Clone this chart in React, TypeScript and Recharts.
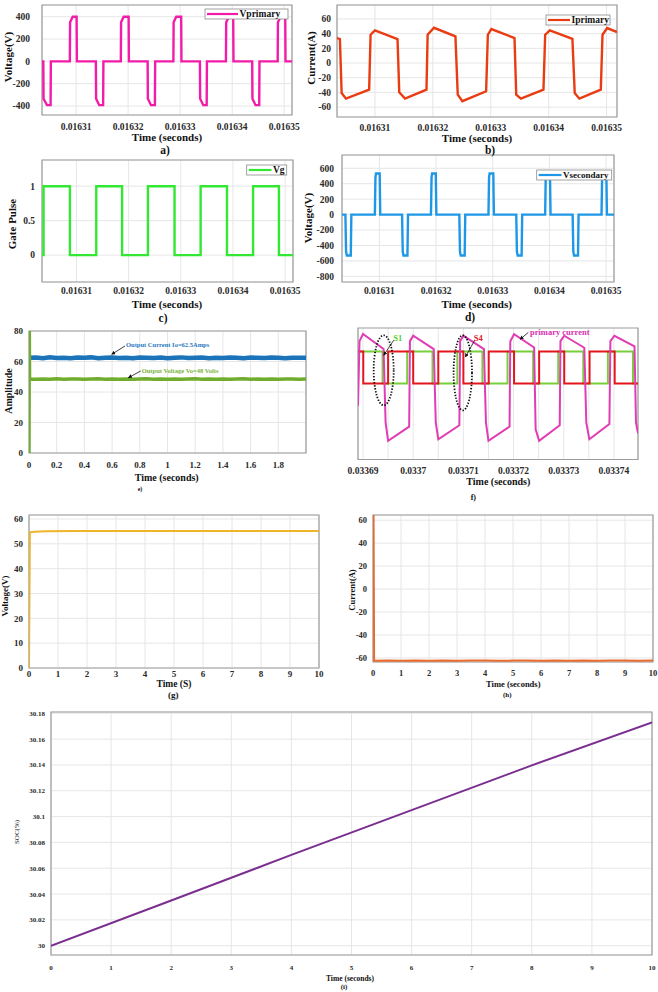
import React from "react";
import { CartesianGrid, Line, LineChart, ReferenceArea, XAxis, YAxis } from "recharts";

type Pt = [number, number];

// time for a-d and f is in microseconds, printed as seconds on the axis
const vPrimary: Pt[] = [
  [16303.4, 0], [16303.7, 0], [16303.75, -335], [16304.4, -392], [16305.1, -392], [16305.15, 0],
  [16308.8, 0], [16308.85, 350], [16309.35, 400], [16310.1, 400], [16310.15, 0],
  [16313.8, 0], [16313.85, -335], [16314.45, -392], [16315.2, -392], [16315.25, 0],
  [16318.6, 0], [16318.65, 350], [16319.15, 400], [16320.1, 400], [16320.15, 0],
  [16323.75, 0], [16323.8, -335], [16324.4, -392], [16325.15, -392], [16325.2, 0],
  [16328.7, 0], [16328.75, 350], [16329.25, 400], [16330.2, 400], [16330.25, 0],
  [16333.8, 0], [16333.85, -335], [16334.45, -392], [16335.1, -392], [16335.15, 0],
  [16338.8, 0], [16338.85, 350], [16339.35, 400], [16340.2, 400], [16340.25, 0],
  [16343.85, 0], [16343.9, -335], [16344.5, -392], [16345.2, -392], [16345.25, 0],
  [16348.75, 0], [16348.8, 350], [16349.3, 400], [16350.2, 400], [16350.25, 0],
  [16351.5, 0],
];

const iPrimary: Pt[] = [
  [16303.45, 34], [16303.95, 32.7], [16304.25, -40.8], [16305.0, -48.5], [16309.0, -36.3],
  [16309.25, 38.5], [16310.0, 44.4], [16313.9, 32.7], [16314.2, -39.9], [16315.2, -48.5],
  [16318.9, -36.3], [16319.1, 38.5], [16320.2, 48], [16323.9, 36.3], [16324.3, -43],
  [16325.1, -52], [16329.2, -38.5], [16329.5, 38.5], [16330.1, 46.3], [16334.1, 34],
  [16334.4, -43], [16335.2, -48.5], [16339.1, -36.3], [16339.4, 38.5], [16340.2, 44.4],
  [16344.1, 33], [16344.5, -40.8], [16345.3, -48.5], [16349.0, -36.3], [16349.3, 38.5],
  [16350.1, 47.6], [16351.8, 42],
];

const gatePulse: Pt[] = [
  [16303.4, 0], [16303.7, 0], [16303.7, 1], [16308.75, 1], [16308.75, 0],
  [16313.8, 0], [16313.8, 1], [16318.75, 1], [16318.75, 0],
  [16323.7, 0], [16323.7, 1], [16328.8, 1], [16328.8, 0],
  [16333.8, 0], [16333.8, 1], [16338.85, 1], [16338.85, 0],
  [16343.85, 0], [16343.85, 1], [16348.8, 1], [16348.8, 0],
  [16351.5, 0],
];

const vSecondary: Pt[] = [
  [16303.4, 0],
  [16304.0, 0], [16304.12, -480], [16304.25, -530], [16304.95, -530], [16305.05, 0],
  [16309.2, 0], [16309.3, 480], [16309.4, 533], [16310.05, 533], [16310.15, 0],
  [16314.0, 0], [16314.12, -480], [16314.25, -530], [16314.95, -530], [16315.05, 0],
  [16319.1, 0], [16319.2, 480], [16319.3, 533], [16319.95, 533], [16320.05, 0],
  [16324.1, 0], [16324.22, -480], [16324.35, -530], [16325.05, -530], [16325.15, 0],
  [16329.25, 0], [16329.35, 480], [16329.45, 533], [16330.1, 533], [16330.2, 0],
  [16334.15, 0], [16334.27, -480], [16334.4, -530], [16335.1, -530], [16335.2, 0],
  [16339.25, 0], [16339.35, 480], [16339.45, 533], [16340.1, 533], [16340.2, 0],
  [16344.1, 0], [16344.22, -480], [16344.35, -530], [16345.05, -530], [16345.15, 0],
  [16349.2, 0], [16349.3, 480], [16349.4, 533], [16350.05, 533], [16350.15, 0],
  [16351.4, 0],
];

// e) output current / voltage over 2 s
const outCurrent: Pt[] = [
  [0, 62.4], [0.05, 62.6], [0.1, 62.2], [0.15, 62.7], [0.2, 62.3], [0.25, 62.5], [0.3, 62.1],
  [0.35, 62.6], [0.4, 62.4], [0.45, 62.7], [0.5, 62.2], [0.55, 62.5], [0.6, 62.6], [0.65, 62.3],
  [0.7, 62.5], [0.75, 62.2], [0.8, 62.6], [0.85, 62.4], [0.9, 62.3], [0.95, 62.6], [1, 62.2],
  [1.05, 62.5], [1.1, 62.7], [1.15, 62.3], [1.2, 62.4], [1.25, 62.6], [1.3, 62.2], [1.35, 62.5],
  [1.4, 62.3], [1.45, 62.6], [1.5, 62.4], [1.55, 62.2], [1.6, 62.6], [1.65, 62.4], [1.7, 62.3],
  [1.75, 62.6], [1.8, 62.5], [1.85, 62.2], [1.9, 62.5], [1.95, 62.4], [2, 62.4],
];
const outVoltage: Pt[] = [
  [0, 0], [0.002, 85], [0.004, 48.5], [0.05, 48.3], [0.1, 48.6], [0.15, 48.4], [0.2, 48.7],
  [0.25, 48.3], [0.3, 48.5], [0.35, 48.6], [0.4, 48.3], [0.45, 48.5], [0.5, 48.7], [0.55, 48.4],
  [0.6, 48.5], [0.65, 48.3], [0.7, 48.6], [0.75, 48.4], [0.8, 48.5], [0.85, 48.7], [0.9, 48.3],
  [0.95, 48.5], [1, 48.4], [1.05, 48.6], [1.1, 48.3], [1.15, 48.5], [1.2, 48.7], [1.25, 48.4],
  [1.3, 48.5], [1.35, 48.3], [1.4, 48.6], [1.45, 48.4], [1.5, 48.5], [1.55, 48.7], [1.6, 48.3],
  [1.65, 48.5], [1.7, 48.4], [1.75, 48.6], [1.8, 48.3], [1.85, 48.5], [1.9, 48.6], [1.95, 48.4],
  [2, 48.5],
];

// f) switching detail, arbitrary vertical units
const primaryCurrentF: Pt[] = [
  [33689.0, 40.8], [33689.3, 90], [33690.0, 95.4], [33694.1, 84], [33694.5, 28], [33695.0, 14.2],
  [33699.2, 25], [33699.35, 90], [33700.0, 94.1], [33704.1, 84], [33704.5, 28], [33705.0, 15.4],
  [33709.2, 26], [33709.35, 90], [33710.0, 94.1], [33714.1, 84], [33714.5, 28], [33715.0, 14.2],
  [33719.2, 25], [33719.35, 90], [33720.1, 95.3], [33724.1, 85.2], [33724.4, 23], [33725.1, 14.2],
  [33729.2, 26], [33729.35, 90], [33730.1, 94.1], [33734.1, 85], [33734.5, 28], [33735.1, 15.4],
  [33739.1, 27], [33739.3, 90], [33740.1, 94.1], [33744.1, 86], [33744.4, 28], [33744.8, 20],
];
const s4: Pt[] = [
  [33689, 82.1], [33690.05, 82.1], [33690.05, 57.8], [33695.0, 57.8], [33695.0, 82.1],
  [33700.0, 82.1], [33700.0, 57.8], [33705.0, 57.8], [33705.0, 82.1], [33710.0, 82.1],
  [33710.0, 57.8], [33715.05, 57.8], [33715.05, 82.1], [33720.1, 82.1], [33720.1, 57.8],
  [33725.1, 57.8], [33725.1, 82.1], [33730.1, 82.1], [33730.1, 57.8], [33735.15, 57.8],
  [33735.15, 82.1], [33740.15, 82.1], [33740.15, 57.8], [33744.8, 57.8],
];
const s1: Pt[] = [
  [33689, 82.1], [33693.9, 82.1], [33693.9, 57.8], [33698.8, 57.8], [33698.8, 82.1],
  [33703.85, 82.1], [33703.85, 57.8], [33708.8, 57.8], [33708.8, 82.1], [33713.8, 82.1],
  [33713.8, 57.8], [33718.8, 57.8], [33718.8, 82.1], [33723.9, 82.1], [33723.9, 57.8],
  [33728.9, 57.8], [33728.9, 82.1], [33733.9, 82.1], [33733.9, 57.8], [33738.8, 57.8],
  [33738.8, 82.1], [33743.8, 82.1], [33743.8, 57.8], [33744.8, 57.8],
];

// g) h) i) 10 s runs
const battVoltage: Pt[] = [[0, 0], [0.03, 54.6], [0.2, 54.9], [0.6, 55.1], [1.5, 55.2], [10, 55.2]];
const battCurrent: Pt[] = [
  [0, 64.3], [0.02, 64.3], [0.04, -62.4], [0.5, -62.2], [1, -62.5], [1.5, -62.2], [2, -62.4],
  [2.5, -62.1], [3, -62.5], [3.5, -62.3], [4, -62.2], [4.5, -62.5], [5, -62.3], [5.5, -62.1],
  [6, -62.4], [6.5, -62.2], [7, -62.5], [7.5, -62.2], [8, -62.4], [8.5, -62.3], [9, -62.2],
  [9.5, -62.4], [10, -62.3],
];
const soc: Pt[] = [[0, 30], [2, 30.035], [4, 30.0703], [6, 30.105], [8, 30.1397], [10, 30.173]];

const usTicks = [16310, 16320, 16330, 16340, 16350];
const fTicks = [33690, 33695, 33700, 33705, 33710, 33715, 33720, 33725, 33730, 33735, 33740];
const eTimeTicks = [0, 0.2, 0.4, 0.6, 0.8, 1, 1.2, 1.4, 1.6, 1.8];
const tenTicks = [0, 1, 2, 3, 4, 5, 6, 7, 8, 9, 10];
const socTicks = [30, 30.02, 30.04, 30.06, 30.08, 30.1, 30.12, 30.14, 30.16, 30.18];

const SERIF = "'Liberation Serif', 'Times New Roman', serif";
const usToSec = (v: number) => String(parseFloat((v / 1e6).toFixed(5)));

type Series = { data: Pt[]; color: string; width: number };
type PanelProps = {
  box: [number, number, number, number];
  xDomain: [number, number];
  yDomain: [number, number];
  xTicks: number[];
  yTicks?: number[];
  xFmt?: (v: number) => string;
  fs: number;
  xGap: number;
  yGap?: number;
  hGrid?: boolean;
  series: Series[];
};

function Panel({ box, xDomain, yDomain, xTicks, yTicks, xFmt, fs, xGap, yGap = 6, hGrid = true, series }: PanelProps) {
  const [l, t, r, b] = box;
  const padL = 48, padT = 4, padR = 28, padB = 26;
  const tickStyle = { fontSize: fs, fontFamily: SERIF, fontWeight: 700, fill: "#2a2a2a" };
  return (
    <div style={{ position: "absolute", left: l - padL, top: t - padT }}>
      <LineChart
        width={r - l + padL + padR}
        height={b - t + padT + padB}
        margin={{ top: padT, right: padR, bottom: 0, left: 0 }}
      >
        <CartesianGrid stroke="#e6e6e6" horizontal={hGrid} vertical />
        <XAxis
          type="number"
          dataKey="t"
          domain={xDomain}
          ticks={xTicks}
          interval={0}
          allowDataOverflow
          height={padB}
          tickLine={false}
          axisLine={false}
          tickSize={0}
          tickMargin={xGap}
          tick={tickStyle}
          tickFormatter={xFmt}
        />
        <YAxis
          type="number"
          domain={yDomain}
          ticks={yTicks}
          interval={0}
          allowDataOverflow
          width={padL}
          tickLine={false}
          axisLine={false}
          tickSize={0}
          tickMargin={yGap}
          tick={yTicks ? tickStyle : false}
        />
        <ReferenceArea
          x1={xDomain[0]}
          x2={xDomain[1]}
          y1={yDomain[0]}
          y2={yDomain[1]}
          fill="none"
          fillOpacity={0}
          stroke="#9c9c9c"
          strokeWidth={1.2}
          ifOverflow="visible"
        />
        {series.map((s, i) => (
          <Line
            key={i}
            data={s.data.map(([x, y]) => ({ t: x, v: y }))}
            dataKey="v"
            type="linear"
            stroke={s.color}
            strokeWidth={s.width}
            dot={false}
            activeDot={false}
            isAnimationActive={false}
          />
        ))}
      </LineChart>
    </div>
  );
}

function Txt({ x, y, s, children, rot, fill = "#111", w = 700, anchor = "middle" }: {
  x: number; y: number; s: number; children: React.ReactNode; rot?: boolean; fill?: string; w?: number; anchor?: "start" | "middle" | "end";
}) {
  return (
    <text
      x={x}
      y={y}
      fontSize={s}
      fontFamily={SERIF}
      fontWeight={w}
      fill={fill}
      textAnchor={anchor}
      dominantBaseline="central"
      transform={rot ? `rotate(-90 ${x} ${y})` : undefined}
    >
      {children}
    </text>
  );
}

function Legend({ x, y, w, h, color, label, lineEnd, fs }: {
  x: number; y: number; w: number; h: number; color: string; label: string; lineEnd: number; fs: number;
}) {
  return (
    <g>
      <rect x={x} y={y} width={w} height={h} fill="#fff" stroke="#8a8a8a" strokeWidth={0.8} />
      <line x1={x + 2} x2={lineEnd} y1={y + h / 2} y2={y + h / 2} stroke={color} strokeWidth={2.2} />
      <Txt x={lineEnd + 1.5} y={y + h / 2} s={fs} anchor="start">{label}</Txt>
    </g>
  );
}

export default function App() {
  return (
    <div style={{ position: "absolute", left: 0, top: 0, width: 658, height: 992, background: "#fff", overflow: "hidden" }}>
      <Panel box={[42, 5, 292, 115]} xDomain={[16303.45, 16351.5]} yDomain={[-480, 505]} xTicks={usTicks}
        yTicks={[-400, -200, 0, 200, 400]} xFmt={usToSec} fs={9.5} xGap={8} yGap={12}
        series={[{ data: vPrimary, color: "#f21ca8", width: 2.4 }]} />
      <Panel box={[337, 5, 617, 117]} xDomain={[16303.45, 16351.8]} yDomain={[-73.5, 79]} xTicks={usTicks}
        yTicks={[-60, -40, -20, 0, 20, 40, 60]} xFmt={usToSec} fs={9.5} xGap={7} yGap={6}
        series={[{ data: iPrimary, color: "#ea3c12", width: 2.4 }]} />
      <Panel box={[42, 160, 293, 282]} xDomain={[16303.4, 16351.5]} yDomain={[-0.39, 1.38]} xTicks={usTicks}
        yTicks={[0, 0.5, 1]} xFmt={usToSec} fs={9.5} xGap={5.5} yGap={7}
        series={[{ data: gatePulse, color: "#33e833", width: 2.4 }]} />
      <Panel box={[342, 155, 614, 282]} xDomain={[16303.4, 16351.4]} yDomain={[-873, 772]} xTicks={usTicks}
        yTicks={[-800, -600, -400, -200, 0, 200, 400, 600]} xFmt={usToSec} fs={9.5} xGap={5.5} yGap={8}
        series={[{ data: vSecondary, color: "#1e98e6", width: 2.4 }]} />
      <Panel box={[29, 331, 306, 453]} xDomain={[0, 2]} yDomain={[0, 80]} xTicks={eTimeTicks}
        yTicks={[0, 20, 40, 60, 80]} fs={9} xGap={9} yGap={6}
        series={[
          { data: outCurrent, color: "#1b73b9", width: 4.5 },
          { data: outVoltage, color: "#70ad2e", width: 3.5 },
        ]} />
      <Panel box={[358, 327.5, 638, 459]} xDomain={[33689, 33744.8]} yDomain={[0, 100]} xTicks={fTicks}
        xFmt={(v) => (v % 10 === 0 ? usToSec(v) : "")} fs={9.5} xGap={8} hGrid={false}
        series={[
          { data: s1, color: "#78cf3c", width: 2 },
          { data: s4, color: "#e3161c", width: 2 },
          { data: primaryCurrentF, color: "#e03cb4", width: 2 },
        ]} />
      <Panel box={[29, 515, 319, 668]} xDomain={[0, 10]} yDomain={[0, 61.6]} xTicks={tenTicks}
        yTicks={[0, 10, 20, 30, 40, 50, 60]} fs={9} xGap={2.5} yGap={6}
        series={[{ data: battVoltage, color: "#efb42a", width: 2 }]} />
      <Panel box={[373, 515, 653, 662]} xDomain={[0, 10]} yDomain={[-63.5, 64.5]} xTicks={tenTicks}
        yTicks={[-60, -40, -20, 0, 20, 40, 60]} fs={8.5} xGap={8} yGap={6}
        series={[{ data: battCurrent, color: "#ea6a2c", width: 2 }]} />
      <Panel box={[51, 712, 652, 955]} xDomain={[0, 10]} yDomain={[29.9928, 30.181]} xTicks={tenTicks}
        yTicks={socTicks} fs={7} xGap={10} yGap={6}
        series={[{ data: soc, color: "#7a2e8f", width: 2 }]} />

      <svg width={658} height={992} style={{ position: "absolute", left: 0, top: 0, pointerEvents: "none" }}>
        <defs>
          <marker id="ah" viewBox="0 0 10 10" refX="9" refY="5" markerWidth="5" markerHeight="5" orient="auto-start-reverse">
            <path d="M0,0 L10,5 L0,10 z" fill="#111" />
          </marker>
        </defs>

        {/* a */}
        <Txt x={7.5} y={57} s={11} rot>Voltage(V)</Txt>
        <Txt x={167} y={137} s={11}>Time (seconds)</Txt>
        <Txt x={165} y={149.5} s={11.5}>a)</Txt>
        <Legend x={205} y={9} w={83} h={10} color="#f21ca8" label="Vprimary" lineEnd={238} fs={9.5} />

        {/* b */}
        <Txt x={310.5} y={58} s={11} rot>Current(A)</Txt>
        <Txt x={477} y={138} s={11}>Time (seconds)</Txt>
        <Txt x={490} y={149.5} s={11.5}>b)</Txt>
        <Legend x={546} y={15} w={64} h={10} color="#ea3c12" label="Iprimary" lineEnd={570} fs={9.5} />

        {/* c */}
        <Txt x={11.7} y={224} s={11} rot>Gate Pulse</Txt>
        <Txt x={167} y={304} s={11}>Time (seconds)</Txt>
        <Txt x={163} y={318} s={11.5}>c)</Txt>
        <Legend x={246.7} y={165} w={40} h={10} color="#33e833" label="Vg" lineEnd={271.5} fs={9.5} />

        {/* d */}
        <Txt x={308.3} y={218} s={11} rot>Voltage(V)</Txt>
        <Txt x={476.7} y={304.3} s={11}>Time (seconds)</Txt>
        <Txt x={470} y={316.5} s={11.5}>d)</Txt>
        <Legend x={536.7} y={170} w={75} h={10} color="#1e98e6" label="Vsecondary" lineEnd={561.5} fs={9} />

        {/* e */}
        <Txt x={8.3} y={391} s={10} rot>Amplitude</Txt>
        <Txt x={166.7} y={477.7} s={10}>Time (seconds)</Txt>
        <Txt x={140} y={488.5} s={6}>e)</Txt>
        <Txt x={126} y={344.3} s={6.5} fill="#2a78c0" anchor="start">Output Current Io=62.5Amps</Txt>
        <line x1={125} y1={346} x2={111.7} y2={354.3} stroke="#111" strokeWidth={0.8} markerEnd="url(#ah)" />
        <Txt x={141.7} y={370} s={6.5} fill="#7ab33a" anchor="start">Output Voltage Vo=48 Volts</Txt>
        <line x1={140.7} y1={371} x2={128.3} y2={377.7} stroke="#111" strokeWidth={0.8} markerEnd="url(#ah)" />

        {/* f */}
        <Txt x={498.3} y={481} s={10}>Time (seconds)</Txt>
        <Txt x={473.3} y={497} s={8}>f)</Txt>
        <ellipse cx={383.7} cy={370.3} rx={10} ry={35} fill="none" stroke="#111" strokeWidth={1.8} strokeDasharray="1.4 1.6" />
        <ellipse cx={462.8} cy={372.8} rx={9.2} ry={37.5} fill="none" stroke="#111" strokeWidth={1.8} strokeDasharray="1.4 1.6" />
        <Txt x={397.8} y={337.7} s={8.5} fill="#4fd12a">S1</Txt>
        <line x1={393.7} y1={340.3} x2={383.7} y2={355.3} stroke="#111" strokeWidth={0.8} markerEnd="url(#ah)" />
        <Txt x={478.3} y={337.7} s={8.5} fill="#e3161c">S4</Txt>
        <line x1={474.7} y1={340.3} x2={465.3} y2={357} stroke="#111" strokeWidth={0.8} markerEnd="url(#ah)" />
        <Txt x={530} y={332} s={8.5} fill="#d930b0" anchor="start">primary current</Txt>
        <line x1={528.3} y1={332.5} x2={520} y2={339.3} stroke="#111" strokeWidth={0.8} markerEnd="url(#ah)" />

        {/* g */}
        <Txt x={5} y={596} s={9} rot>Voltage(V)</Txt>
        <Txt x={174} y={683.5} s={9.5}>Time (S)</Txt>
        <Txt x={173.3} y={694.5} s={9}>(g)</Txt>

        {/* h */}
        <Txt x={351.7} y={590} s={8.5} rot>Current(A)</Txt>
        <Txt x={513.3} y={684} s={8.5}>Time (seconds)</Txt>
        <Txt x={507.3} y={694.5} s={7}>(h)</Txt>

        {/* i */}
        <Txt x={17} y={832} s={7} w={400} rot>SOC(%)</Txt>
        <Txt x={350} y={978} s={7.5}>Time (seconds)</Txt>
        <Txt x={344} y={987} s={7}>(i)</Txt>
      </svg>
    </div>
  );
}
